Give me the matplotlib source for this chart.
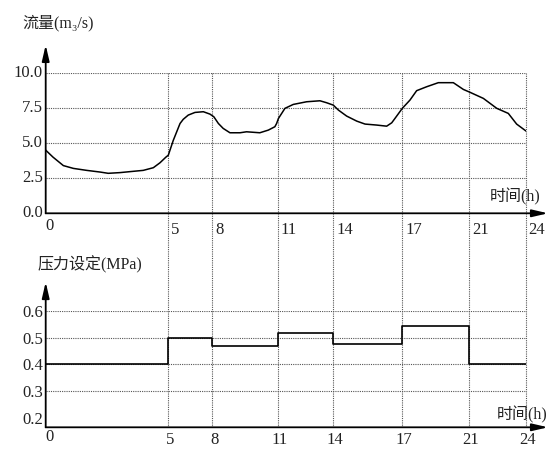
import matplotlib
matplotlib.use('Agg')
import matplotlib.pyplot as plt
import numpy as np
from matplotlib.transforms import ScaledTranslation

# ---------------- data ----------------
tick_hours = [0, 5, 8, 11, 14, 17, 21, 24]
tick_labels = ['0', '5', '8', '11', '14', '17', '21', '24']

flow_hours = [0, 0.3, 0.72, 1.13, 1.67, 2.22, 2.55, 3.03, 3.44, 3.98, 4.39, 4.66,
              4.9, 5.0, 5.34, 5.57, 5.8, 6.02, 6.36, 6.82, 7.39, 7.84, 8.07, 8.28,
              8.5, 8.81, 9.27, 9.57, 10.18, 10.57, 10.87, 10.95, 11.04, 11.39, 11.84,
              12.56, 13.28, 13.64, 14.0, 14.22, 14.58, 15.02, 15.38, 15.88, 16.32,
              16.54, 16.68, 17.0, 17.46, 17.86, 18.46, 19.16, 20.06, 20.66, 21.06,
              21.76, 22.47, 23.08, 23.52, 24]
flow = [4.5, 4.0, 3.4, 3.2, 3.06, 2.94, 2.85, 2.9, 2.97, 3.06, 3.25, 3.6,
        4.0, 4.14, 5.2, 5.8, 6.4, 6.7, 7.0, 7.19, 7.24, 7.07, 6.88, 6.4,
        6.05, 5.74, 5.74, 5.81, 5.74, 5.93, 6.17, 6.4, 6.76, 7.48, 7.76,
        7.95, 8.02, 7.88, 7.71, 7.36, 6.93, 6.57, 6.36, 6.29, 6.21,
        6.45, 6.76, 7.48, 8.07, 8.74, 9.02, 9.31, 9.31, 8.83, 8.62,
        8.19, 7.48, 7.12, 6.36, 5.88]

pressure_hours = [0, 5, 8, 11, 14, 17, 21, 24]
pressure = [0.4, 0.5, 0.467, 0.516, 0.476, 0.544, 0.4, 0.4]

flow_ticks = [0.0, 2.5, 5.0, 7.5, 10.0]
pressure_ticks = [0.2, 0.3, 0.4, 0.5, 0.6]

# ---------------- layout ----------------
plt.rcParams['font.family'] = ['Liberation Serif', 'DejaVu Serif', 'Noto Sans CJK SC']
plt.rcParams['font.size'] = 12
TXT = '#222222'
GRID = '#555555'

W, H = 550, 450
fig = plt.figure(figsize=(W / 100, H / 100), dpi=100)


def px_rect(l, t, r, b):
    return [l / W, 1 - b / H, (r - l) / W, (b - t) / H]


ax1 = fig.add_axes(px_rect(45.7, 73, 525.7, 213.3))
ax2 = fig.add_axes(px_rect(45.7, 311, 525.7, 427.3))

# non-uniform time axis as drawn in the figure
tick_frac = np.array([0, 122.6, 166.6, 232.0, 287.6, 356.6, 423.3, 480.0]) / 480.0


def fwd(h):
    return np.interp(h, tick_hours, tick_frac)


def inv(p):
    return np.interp(p, tick_frac, tick_hours)


for ax in (ax1, ax2):
    ax.set_xscale('function', functions=(fwd, inv))
    ax.set_xlim(0, 24)
    for s in ax.spines.values():
        s.set_visible(False)
    ax.set_facecolor('none')
    ax.tick_params(length=0, colors=TXT, labelsize=12)
    ax.set_xticks(tick_hours)

ax1.set_ylim(0, 10)
ax1.set_yticks(flow_ticks)
ax1.set_yticklabels([f'{v:.1f}' for v in flow_ticks])
ax2.set_ylim(0.164, 0.6)
ax2.set_yticks(pressure_ticks)
ax2.set_yticklabels([f'{v:.1f}' for v in pressure_ticks])
for ax in (ax1, ax2):
    ax.tick_params(axis='y', pad=2)

# x tick labels
ax1.set_xticklabels(tick_labels, ha='left')
ax1.tick_params(axis='x', pad=6.5)
ax2.set_xticklabels(tick_labels, ha='center')
ax2.tick_params(axis='x', pad=3.5)


def shift(lbl, dx_px, dy_px):
    lbl.set_transform(lbl.get_transform() +
                      ScaledTranslation(dx_px / 100, dy_px / 100, fig.dpi_scale_trans))


for i, lbl in enumerate(ax1.get_xticklabels()):
    shift(lbl, 0 if i == 0 else 3, 4 if i == 0 else 0)
for lbl in ax1.get_yticklabels():
    shift(lbl, 0, 2)
for i, lbl in enumerate(ax2.get_xticklabels()):
    if i == 0:
        lbl.set_ha('left')
        shift(lbl, 0, 3)
    else:
        shift(lbl, 2, 0)

# grid lines
for v in flow_ticks[1:]:
    ax1.axhline(v, color=GRID, lw=0.8, ls=(0, (1, 1)), zorder=1)
for v in pressure_ticks[1:]:
    ax2.axhline(v, color=GRID, lw=0.8, ls=(0, (1, 1)), zorder=1)

# vertical time lines spanning both panels
ymin_frac = -(427.3 - 213.3) / (213.3 - 73)
for h in tick_hours[1:]:
    ax1.plot([h, h], [1, ymin_frac], transform=ax1.get_xaxis_transform(),
             color=GRID, lw=0.8, ls=(0, (1, 1)), clip_on=False, zorder=1)

# data
ax1.plot(flow_hours, flow, color='black', lw=1.1, zorder=3)
ax2.plot(pressure_hours, pressure, color='black', lw=1.2, drawstyle='steps-post', zorder=3)

# axes with arrows
arrow = dict(arrowstyle='-|>,head_length=0.95,head_width=0.22', lw=1.3, color='black',
             shrinkA=0, shrinkB=0, mutation_scale=10)
for ax, ytop in ((ax1, 1.2), (ax2, 1.249)):
    ax.annotate('', xy=(0, ytop), xytext=(0, 0), xycoords='axes fraction',
                arrowprops=arrow, annotation_clip=False)
    ax.annotate('', xy=(1.0465, 0), xytext=(0, 0), xycoords='axes fraction',
                arrowprops=arrow, annotation_clip=False)

# axis titles
fig.text(22 / W, 1 - 23 / H, '流量(m₃/s)', ha='left', va='center', color=TXT, fontsize=11.5)
fig.text(38 / W, 1 - 265 / H, '压力设定(MPa)', ha='left', va='center', color=TXT, fontsize=11.5)
fig.text(490 / W, 1 - 197 / H, '时间(h)', ha='left', va='center', color=TXT, fontsize=11.5)
fig.text(497 / W, 1 - 415 / H, '时间(h)', ha='left', va='center', color=TXT, fontsize=11.5)

fig.savefig('out.png', dpi=100, facecolor='white')
